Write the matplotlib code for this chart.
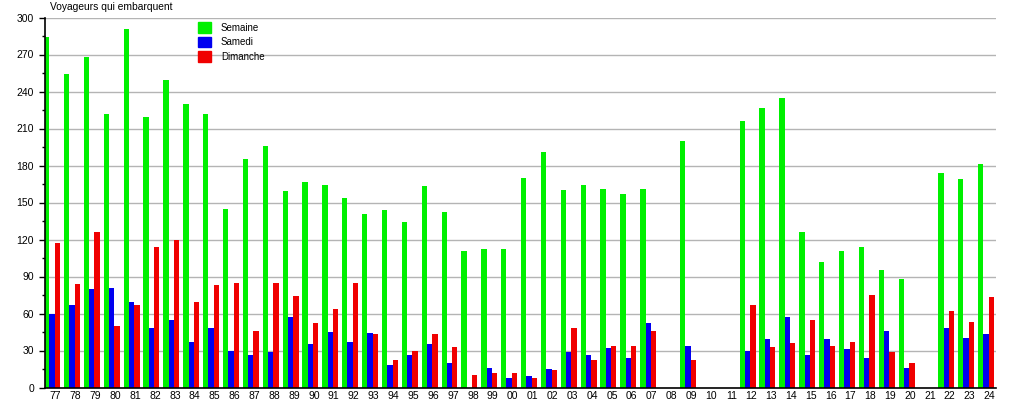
import numpy as np
import matplotlib
matplotlib.use('Agg')
import matplotlib.pyplot as plt
from matplotlib.patches import Rectangle
matplotlib.rcParams['font.family'] = ['Liberation Sans', 'DejaVu Sans']
matplotlib.rcParams['font.size'] = 7

# years 1977 -> 2024, two-digit labels
years = ['77', '78', '79', '80', '81', '82', '83', '84', '85', '86', '87', '88',
         '89', '90', '91', '92', '93', '94', '95', '96', '97', '98', '99', '00',
         '01', '02', '03', '04', '05', '06', '07', '08', '09', '10', '11', '12',
         '13', '14', '15', '16', '17', '18', '19', '20', '21', '22', '23', '24']

semaine = [284, 254, 268, 222, 291, 219, 249, 230, 222, 145, 185, 196,
           159, 167, 164, 154, 141, 144, 134, 163, 142, 111, 112, 112,
           170, 191, 160, 164, 161, 157, 161, 0, 200, 0, 0, 216,
           227, 235, 126, 102, 111, 114, 95, 88, 0, 174, 169, 181]

samedi = [60, 67, 80, 81, 69, 48, 55, 37, 48, 30, 26, 29,
          57, 35, 45, 37, 44, 18, 26, 35, 20, 0, 16, 8,
          9, 15, 29, 26, 32, 24, 52, 0, 34, 0, 0, 30,
          39, 57, 26, 39, 31, 24, 46, 16, 0, 48, 40, 43]

dimanche = [117, 84, 126, 50, 67, 114, 120, 69, 83, 85, 46, 85,
            74, 52, 64, 85, 43, 22, 30, 43, 33, 10, 12, 12,
            8, 14, 48, 22, 34, 34, 46, 0, 22, 0, 0, 67,
            33, 36, 55, 34, 37, 75, 29, 20, 0, 62, 53, 73]

green = '#00f000'
blue = '#0000f0'
red = '#f00000'

fig = plt.figure(figsize=(10.15, 4.0), dpi=100)
ax = fig.add_axes([45/1015., 12.5/400., 951/1015., 370/400.])

x = np.arange(len(years))
w = 0.268
ax.bar(x, semaine, width=w, align='edge', color=green, linewidth=0, zorder=2)
ax.bar(x + w, samedi, width=w, align='edge', color=blue, linewidth=0, zorder=2)
ax.bar(x + 2*w, dimanche, width=w, align='edge', color=red, linewidth=0, zorder=2)

ax.set_xlim(0.045, 47.905)
ax.set_ylim(0, 300)
ax.set_yticks(np.arange(0, 301, 30))
ax.set_yticks(np.arange(0, 301, 15), minor=True)
ax.set_xticks(x + 0.58)
ax.set_xticklabels(years)
ax.tick_params(axis='x', length=0, pad=2.5, labelsize=7.5)
ax.tick_params(axis='y', which='major', length=4.5, width=1, direction='out', pad=3.5, labelsize=7.5)
ax.tick_params(axis='y', which='minor', length=2.5, width=1, direction='out')

ax.yaxis.grid(True, color='#b4b4b4', linewidth=1)
ax.set_axisbelow(True)
for s in ['top', 'right']:
    ax.spines[s].set_visible(False)
ax.spines['left'].set_linewidth(1.2)
ax.spines['bottom'].set_linewidth(1.2)

fig.text(50/1015., 1 - 7/400., 'Voyageurs qui embarquent', ha='left', va='center', fontsize=7.4)

handles = [Rectangle((0, 0), 1, 1, color=c) for c in (green, blue, red)]
leg = fig.legend(handles, ['Semaine', 'Samedi', 'Dimanche'], loc='upper left',
                 bbox_to_anchor=(198/1015., 1 - 22/400.), frameon=False,
                 borderpad=0, borderaxespad=0, handlelength=1.34, handleheight=1.34,
                 labelspacing=0.38, handletextpad=1.0, fontsize=7)

fig.savefig('out.png', dpi=100)
